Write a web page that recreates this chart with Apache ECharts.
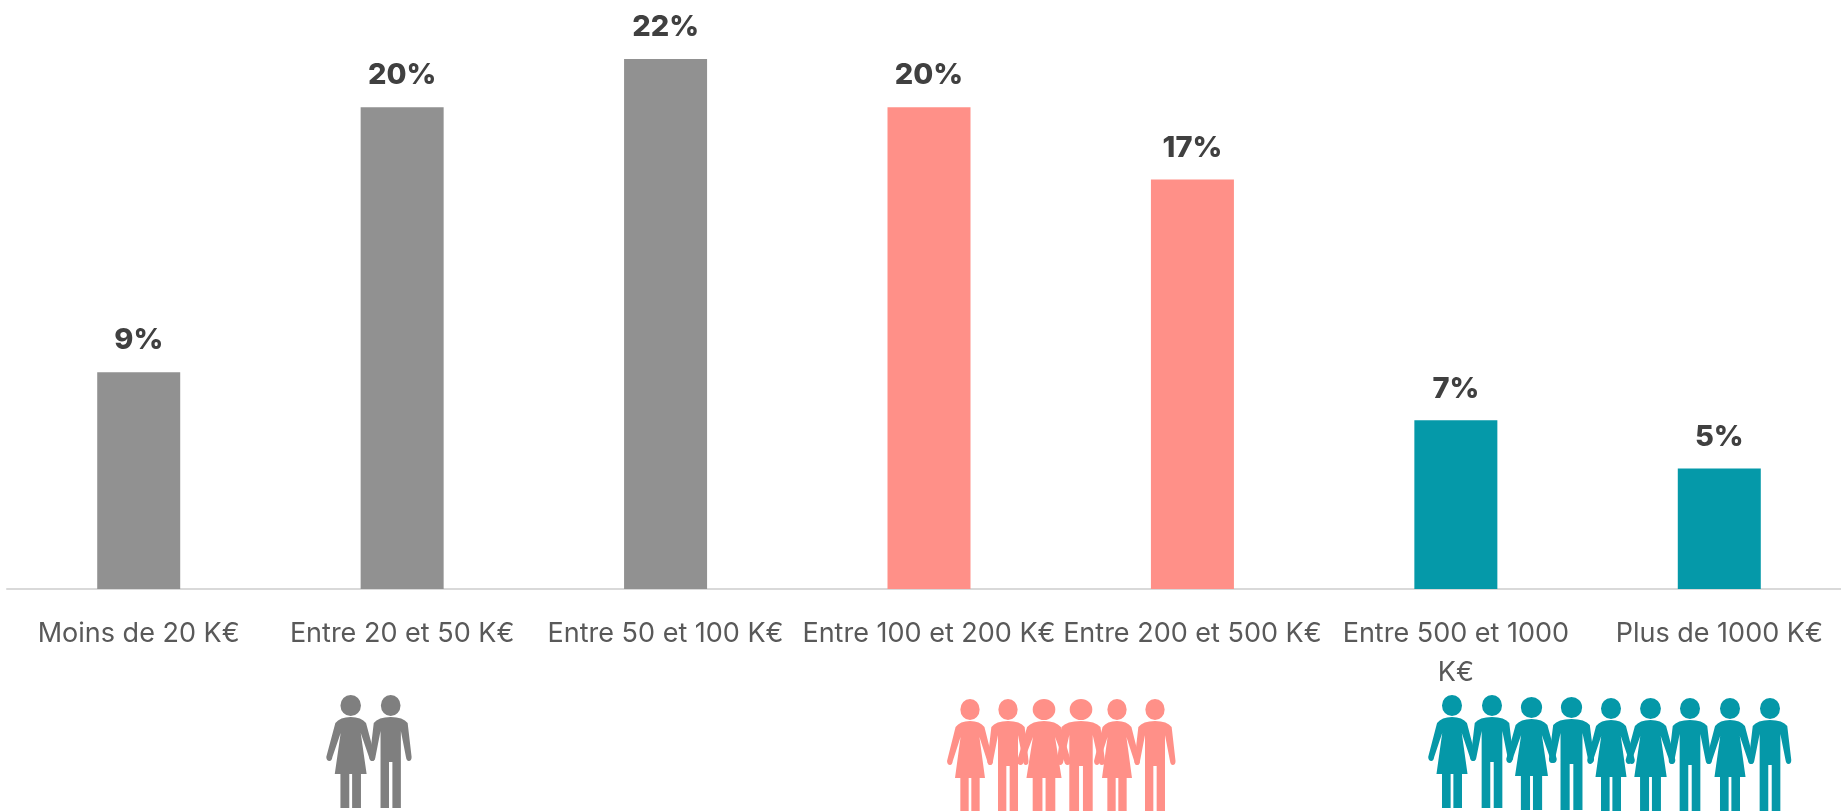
<!DOCTYPE html>
<html>
<head>
<meta charset="utf-8">
<title>Chart</title>
<script src="https://cdn.jsdelivr.net/npm/echarts@6/dist/echarts.min.js"></script>
<style>
html, body { margin: 0; padding: 0; background: #fff; overflow: hidden; }
/* le dernier intervalle depasse a droite de la fenetre */
#chart { width: 1851px; height: 811px; }
</style>
</head>
<body>
<div id="chart"></div>
<script>
// data
const categories = ['Moins de 20 K€', 'Entre 20 et 50 K€', 'Entre 50 et 100 K€', 'Entre 100 et 200 K€', 'Entre 200 et 500 K€', 'Entre 500 et 1000\nK€', 'Plus de 1000 K€'];
const shares = [9, 20, 22, 20, 17, 7, 5];
const barGroups = ['gray', 'gray', 'gray', 'pink', 'pink', 'teal', 'teal'];

const barColors = { gray: '#919191', pink: '#ff9088', teal: '#0599a9' };
const iconColors = { gray: '#7f7f7f', pink: '#ff9088', teal: '#0598a8' };

// pictogrammes : origine = haut de la tete, au centre
const head = 'M-8.7 10.5 A8.7 10.5 0 1 1 8.7 10.5 A8.7 10.5 0 1 1 -8.7 10.5 Z ';
const womanPath = head + 'M0 22 Q9 22 13 28 L20.7 62 Q20.5 66 18 66 Q16 66 15.5 62 L8.5 38 L13.5 79 L8.7 79 L8.7 113 L1.2 113 L1.2 79 L-1.2 79 L-1.2 113 L-8.7 113 L-8.7 79 L-13.5 79 L-8.5 38 L-15.5 62 Q-16 66 -18 66 Q-20.5 66 -20.7 62 L-13 28 Q-9 22 0 22 Z';
const manPath = head + 'M0 22 Q11 22 15 28 L18.5 62 Q18.5 66 16 66 Q14 66 13.5 62 L9 36 L9 113 L1.5 113 L1.5 67 L-1.5 67 L-1.5 113 L-9 113 L-9 36 L-13.5 62 Q-14 66 -16 66 Q-18.5 66 -18.5 62 L-15 28 Q-11 22 0 22 Z';

// le composant graphic ne connait pas 'path', on enregistre les deux formes
echarts.graphic.registerShape('woman', echarts.graphic.extendPath(womanPath, {}));
echarts.graphic.registerShape('man', echarts.graphic.extendPath(manPath, {}));

// [groupe, type, x, y, echelle x]
const people = [
    ['gray', 'woman', 350.7, 695, 1.18], ['gray', 'man', 390.7, 695, 1.13],
    ['pink', 'woman', 970, 699, 1.11], ['pink', 'man', 1008, 699, 1.11], ['pink', 'woman', 1044, 699, 1.3],
    ['pink', 'man', 1081, 699, 1.3], ['pink', 'woman', 1117, 699, 1.11], ['pink', 'man', 1155, 699, 1.11],
    ['teal', 'woman', 1452, 695, 1.15], ['teal', 'man', 1492, 695, 1.15], ['teal', 'woman', 1531.5, 697, 1.22],
    ['teal', 'man', 1571.5, 697, 1.22], ['teal', 'woman', 1611, 698, 1.15], ['teal', 'woman', 1650.5, 698, 1.2],
    ['teal', 'man', 1690, 698, 1.15], ['teal', 'woman', 1730, 698, 1.15], ['teal', 'man', 1770, 698, 1.15]
];

const chart = echarts.init(document.getElementById('chart'));

const option = {
    animation: false,
    backgroundColor: '#fff',
    textStyle: { fontFamily: 'Inter' },
    grid: { left: 7, right: 0, top: 10.8, height: 578.2 },
    xAxis: {
        type: 'category',
        data: categories,
        axisTick: { show: false },
        axisLine: { lineStyle: { color: '#d9d9d9', width: 2 } },
        axisLabel: { color: '#595959', fontSize: 27, lineHeight: 39, margin: 25, interval: 0 }
    },
    yAxis: { type: 'value', min: 0, max: 24, show: false },
    series: [{
        type: 'bar',
        barWidth: 83,
        data: shares.map((v, i) => ({ value: v, itemStyle: { color: barColors[barGroups[i]] } })),
        label: {
            show: true,
            position: 'top',
            distance: 17,
            formatter: '{c}%',
            color: '#404040',
            fontSize: 29,
            fontWeight: 800,
            fontFamily: 'Inter'
        }
    }],
    graphic: people.map(p => ({
        type: p[1],
        silent: true,
        x: p[2],
        y: p[3],
        scaleX: p[4],
        style: { fill: iconColors[p[0]] }
    }))
};

chart.setOption(option);
</script>
</body>
</html>
